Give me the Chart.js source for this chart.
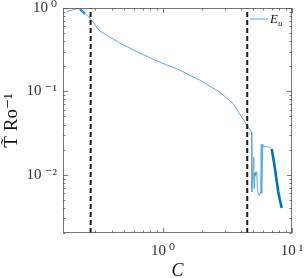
<!DOCTYPE html>
<html>
<head>
<meta charset="utf-8">
<script src="https://cdn.jsdelivr.net/npm/chart.js@4.4.1/dist/chart.umd.min.js"></script>
<style>
  html, body { margin: 0; padding: 0; background: #fff; }
  #wrap { width: 304px; height: 278px; }
</style>
</head>
<body>
<div id="wrap"><canvas id="chart-Eu"></canvas></div>
<script>
// values (C on x, T~ Ro^-1 on y)
const cMain = [0.179, 0.197, 0.220, 0.231, 0.249, 0.272, 0.325, 0.464, 0.663, 0.948, 1.355, 1.935, 2.767, 3.49, 4.48, 4.87,
  4.88, 4.95, 5.0, 5.05, 5.08, 5.12, 5.2, 5.33, 5.4, 5.48, 5.6, 5.72, 5.78, 5.82, 5.93, 6.0, 6.37, 6.7, 6.96];
const tMain = [0.902, 0.946, 0.99, 0.946, 0.863, 0.751, 0.528, 0.379, 0.287, 0.224, 0.179, 0.136, 0.0973, 0.0717, 0.039, 0.0323,
  0.0062, 0.0095, 0.012, 0.0162, 0.0068, 0.0105, 0.0097, 0.0107, 0.0068, 0.0058, 0.0056, 0.0062, 0.0230, 0.0060, 0.0234, 0.0215, 0.0217, 0.0214, 0.0204];

// darker overlapping bits
const cBlob = [0.228, 0.238, 0.249];
const tBlob = [0.96, 0.91, 0.85];
const cWiggle = [5.08, 5.12, 5.2, 5.3];
const tWiggle = [0.0105, 0.0095, 0.0100, 0.0108];
const cTail = [6.96, 7.2, 7.38, 7.6, 7.83, 8.05, 8.32];
const tTail = [0.0204, 0.0150, 0.0118, 0.0085, 0.0062, 0.0050, 0.0040];

// vertical dashed markers
const cDash = [0.275, 4.5];
const yRange = [0.002, 1];
const xRange = [0.168, 10];

const xTickLabels = { 1: '10\u2009\u2070', 10: '10\u2009\u00b9' };
const yTickLabels = { 1: '10\u2009\u2070', 0.1: '10\u2009\u207b\u00b9', 0.01: '10\u2009\u207b\u00b2' };

const lightBlue = '#5aa8e0';
const darkBlue = '#0072bd';
const serif = '"Liberation Serif", "DejaVu Serif", serif';

function pts(xs, ys) {
  return xs.map((x, i) => ({ x: x, y: ys[i] }));
}
function isPow10(v) {
  const l = Math.log10(v);
  return Math.abs(l - Math.round(l)) < 1e-6;
}
function isLogTick(v) {
  const m = v / Math.pow(10, Math.floor(Math.log10(v) + 1e-9));
  return Math.abs(m - Math.round(m)) < 1e-6;
}

const datasets = cDash.map((c) => ({
  label: 'dash',
  data: pts([c, c], yRange),
  borderColor: '#1a1a1a',
  borderWidth: 2,
  borderDash: [5, 3],
  pointRadius: 0
}));
datasets.push({ label: 'E_u', data: pts(cMain, tMain), borderColor: lightBlue, borderWidth: 1, pointRadius: 0, tension: 0 });
datasets.push({ label: 'blob', data: pts(cBlob, tBlob), borderColor: darkBlue, borderWidth: 2.2, pointRadius: 0 });
datasets.push({ label: 'wiggle', data: pts(cWiggle, tWiggle), borderColor: darkBlue, borderWidth: 1.4, pointRadius: 0 });
datasets.push({ label: 'tail', data: pts(cTail, tTail), borderColor: darkBlue, borderWidth: 2.6, pointRadius: 0 });

// box, inward ticks and the legend
const boxPlugin = {
  id: 'boxPlugin',
  afterDraw(chart) {
    const ctx = chart.ctx;
    const a = chart.chartArea;
    const xs = chart.scales.x, ys = chart.scales.y;
    ctx.save();
    ctx.strokeStyle = '#555';
    ctx.lineWidth = 0.8;
    ctx.strokeRect(a.left + 0.5, a.top + 0.5, a.right - a.left - 1, a.bottom - a.top - 1);
    ctx.beginPath();
    xs.ticks.forEach((t) => {
      if (!isLogTick(t.value)) return;
      const len = isPow10(t.value) ? 5 : 2.5;
      const px = Math.round(xs.getPixelForValue(t.value)) + 0.5;
      ctx.moveTo(px, a.bottom); ctx.lineTo(px, a.bottom - len);
      ctx.moveTo(px, a.top); ctx.lineTo(px, a.top + len);
    });
    ys.ticks.forEach((t) => {
      if (!isLogTick(t.value)) return;
      const len = isPow10(t.value) ? 5 : 2.5;
      const py = Math.round(ys.getPixelForValue(t.value)) + 0.5;
      ctx.moveTo(a.left, py); ctx.lineTo(a.left + len, py);
      ctx.moveTo(a.right, py); ctx.lineTo(a.right - len, py);
    });
    ctx.stroke();

    // legend entry
    const ds = chart.data.datasets.find((d) => d.label === 'E_u');
    const lx = a.right - 42, ly = a.top + 11;
    ctx.strokeStyle = ds.borderColor;
    ctx.lineWidth = 1;
    ctx.beginPath();
    ctx.moveTo(lx, ly); ctx.lineTo(lx + 18, ly);
    ctx.stroke();
    ctx.fillStyle = '#111';
    ctx.textBaseline = 'alphabetic';
    ctx.font = 'italic 13px ' + serif;
    ctx.fillText('E', lx + 20, ly + 4);
    ctx.font = 'italic 9px ' + serif;
    ctx.fillText('u', lx + 28, ly + 7);
    ctx.restore();
  }
};

const config = {
  type: 'line',
  data: { datasets },
  options: {
    responsive: false,
    animation: false,
    devicePixelRatio: 1,
    layout: { padding: { top: 8, right: 12, left: 0, bottom: 0 } },
    plugins: { legend: { display: false }, tooltip: { enabled: false } },
    scales: {
      x: {
        type: 'logarithmic',
        min: xRange[0],
        max: xRange[1],
        grid: { display: false, drawTicks: false },
        border: { display: false },
        ticks: {
          autoSkip: false,
          maxRotation: 0,
          padding: 9,
          color: '#333',
          font: { family: serif, size: 15 },
          callback: (v) => xTickLabels[v] || ''
        },
        title: {
          display: true,
          text: 'C',
          color: '#111',
          font: { family: serif, size: 18, style: 'italic', lineHeight: 0.8 },
          padding: { top: 0, bottom: 0 }
        },
        afterFit: (s) => { s.height = 45; s.paddingLeft = 0; s.paddingRight = 0; }
      },
      y: {
        type: 'logarithmic',
        min: yRange[0],
        max: yRange[1],
        grid: { display: false, drawTicks: false },
        border: { display: false },
        ticks: {
          autoSkip: false,
          padding: 6,
          color: '#333',
          font: { family: serif, size: 15 },
          callback: (v) => yTickLabels[v] || ''
        },
        title: {
          display: true,
          text: 'T\u0303 Ro\u207b\u00b9',
          color: '#111',
          font: { family: serif, size: 19, lineHeight: 1 },
          padding: { top: 3, bottom: 0 }
        },
        afterFit: (s) => { s.width = 63; s.paddingTop = 0; s.paddingBottom = 0; }
      }
    }
  },
  plugins: [boxPlugin]
};

const canvas = document.getElementById('chart-Eu');
canvas.width = 304;
canvas.height = 278;
const myChart = new Chart(canvas, config);
</script>
</body>
</html>
